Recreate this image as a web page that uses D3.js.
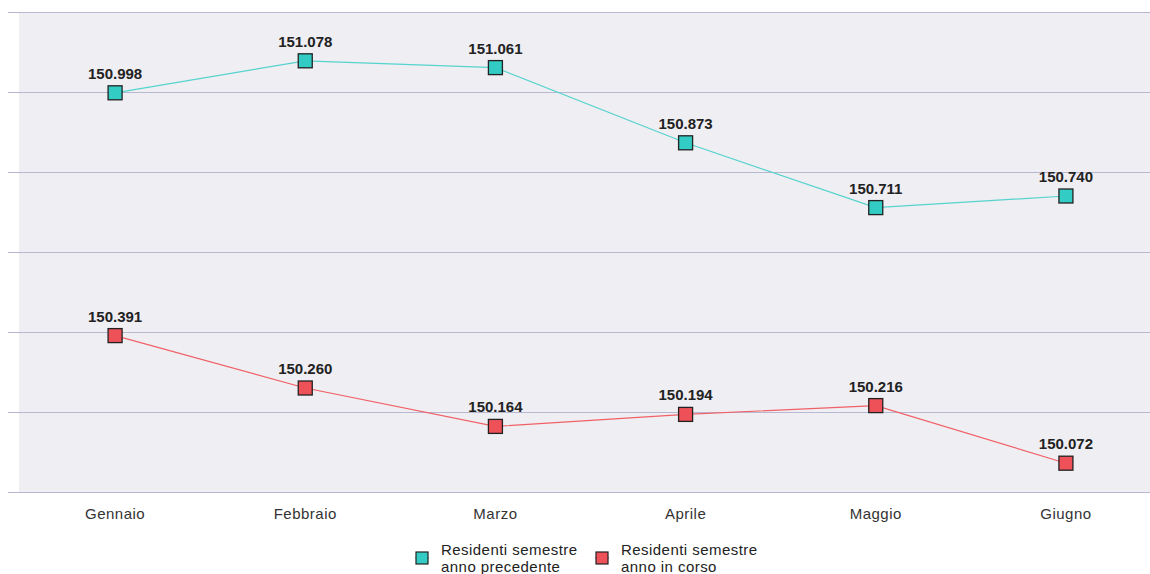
<!DOCTYPE html>
<html>
<head>
<meta charset="utf-8">
<script src="https://cdn.jsdelivr.net/npm/d3@7"></script>
<style>
  body { margin: 0; background: #fff; }
  svg { display: block; font-family: "Liberation Sans", Arial, sans-serif; }
</style>
</head>
<body>
<div id="chart"></div>
<script>
// months and the two series
var months = ["Gennaio", "Febbraio", "Marzo", "Aprile", "Maggio", "Giugno"];
var prevYear = [150.998, 151.078, 151.061, 150.873, 150.711, 150.740];
var currYear = [150.391, 150.260, 150.164, 150.194, 150.216, 150.072];
var yTicks = [150.0, 150.2, 150.4, 150.6, 150.8, 151.0, 151.2];
var seriesNames = [["Residenti semestre", "anno precedente"], ["Residenti semestre", "anno in corso"]];

var width = 1150, height = 574;
var plotTop = 12, plotBottom = 492;

var svg = d3.select("#chart").append("svg")
    .attr("width", width)
    .attr("height", height);

var x = d3.scaleBand().domain(months).range([20, 1161]);
var y = d3.scaleLinear().domain([150.0, 151.2]).range([plotBottom, plotTop]);

// plot background
svg.append("rect")
    .attr("x", 19)
    .attr("y", plotTop)
    .attr("width", width - 19)
    .attr("height", plotBottom - plotTop)
    .attr("fill", "#efeef3");

// horizontal grid lines
svg.append("g").selectAll("line")
    .data(yTicks)
  .enter().append("line")
    .attr("x1", 8)
    .attr("x2", width)
    .attr("y1", function(d) { return Math.round(y(d)) + 0.5; })
    .attr("y2", function(d) { return Math.round(y(d)) + 0.5; })
    .attr("stroke", "#b9b8d2")
    .attr("stroke-width", 1.2);

// x axis labels
var xAxis = svg.append("g")
    .attr("transform", "translate(0," + plotBottom + ")")
    .call(d3.axisBottom(x).tickSize(0).tickPadding(16));
xAxis.select(".domain").remove();
xAxis.selectAll("text")
    .attr("font-size", 15)
    .attr("letter-spacing", 0.5)
    .attr("font-family", "Liberation Sans, Arial, sans-serif")
    .attr("fill", "#333");

var series = [
  { values: prevYear, line: "#55d3cd", fill: "#33ccc4" },
  { values: currYear, line: "#f06066", fill: "#ef5159" }
];

var line = d3.line()
    .x(function(d, i) { return x(months[i]) + x.bandwidth() / 2; })
    .y(function(d) { return y(d); });

series.forEach(function(s) {
  svg.append("path")
      .datum(s.values)
      .attr("fill", "none")
      .attr("stroke", s.line)
      .attr("stroke-width", 1.2)
      .attr("d", line);

  var g = svg.append("g");
  g.selectAll("rect")
      .data(s.values)
    .enter().append("rect")
      .attr("x", function(d, i) { return x(months[i]) + x.bandwidth() / 2 - 7; })
      .attr("y", function(d) { return y(d) - 7; })
      .attr("width", 14)
      .attr("height", 14)
      .attr("fill", s.fill)
      .attr("stroke", "#222")
      .attr("stroke-width", 1.3);

  g.selectAll("text")
      .data(s.values)
    .enter().append("text")
      .attr("x", function(d, i) { return x(months[i]) + x.bandwidth() / 2; })
      .attr("y", function(d) { return y(d) - 14; })
      .attr("text-anchor", "middle")
      .attr("font-size", 15)
      .attr("font-weight", "bold")
      .attr("fill", "#222")
      .text(function(d) { return d.toFixed(3); });
});

// legend
var legendX = [422, 602];
series.forEach(function(s, i) {
  var lg = svg.append("g").attr("transform", "translate(" + legendX[i] + ",558)");
  lg.append("line")
      .attr("x1", -7).attr("x2", 7)
      .attr("y1", 0).attr("y2", 0)
      .attr("stroke", s.line)
      .attr("stroke-width", 1.2);
  lg.append("rect")
      .attr("x", -6).attr("y", -6)
      .attr("width", 12).attr("height", 12)
      .attr("fill", s.fill)
      .attr("stroke", "#222")
      .attr("stroke-width", 1.2);
  var t = lg.append("text")
      .attr("x", 19)
      .attr("y", -3)
      .attr("font-size", 15)
      .attr("letter-spacing", 0.45)
      .attr("fill", "#222");
  seriesNames[i].forEach(function(part, k) {
    t.append("tspan")
        .attr("x", 19)
        .attr("dy", k === 0 ? 0 : 17)
        .text(part);
  });
});
</script>
</body>
</html>
